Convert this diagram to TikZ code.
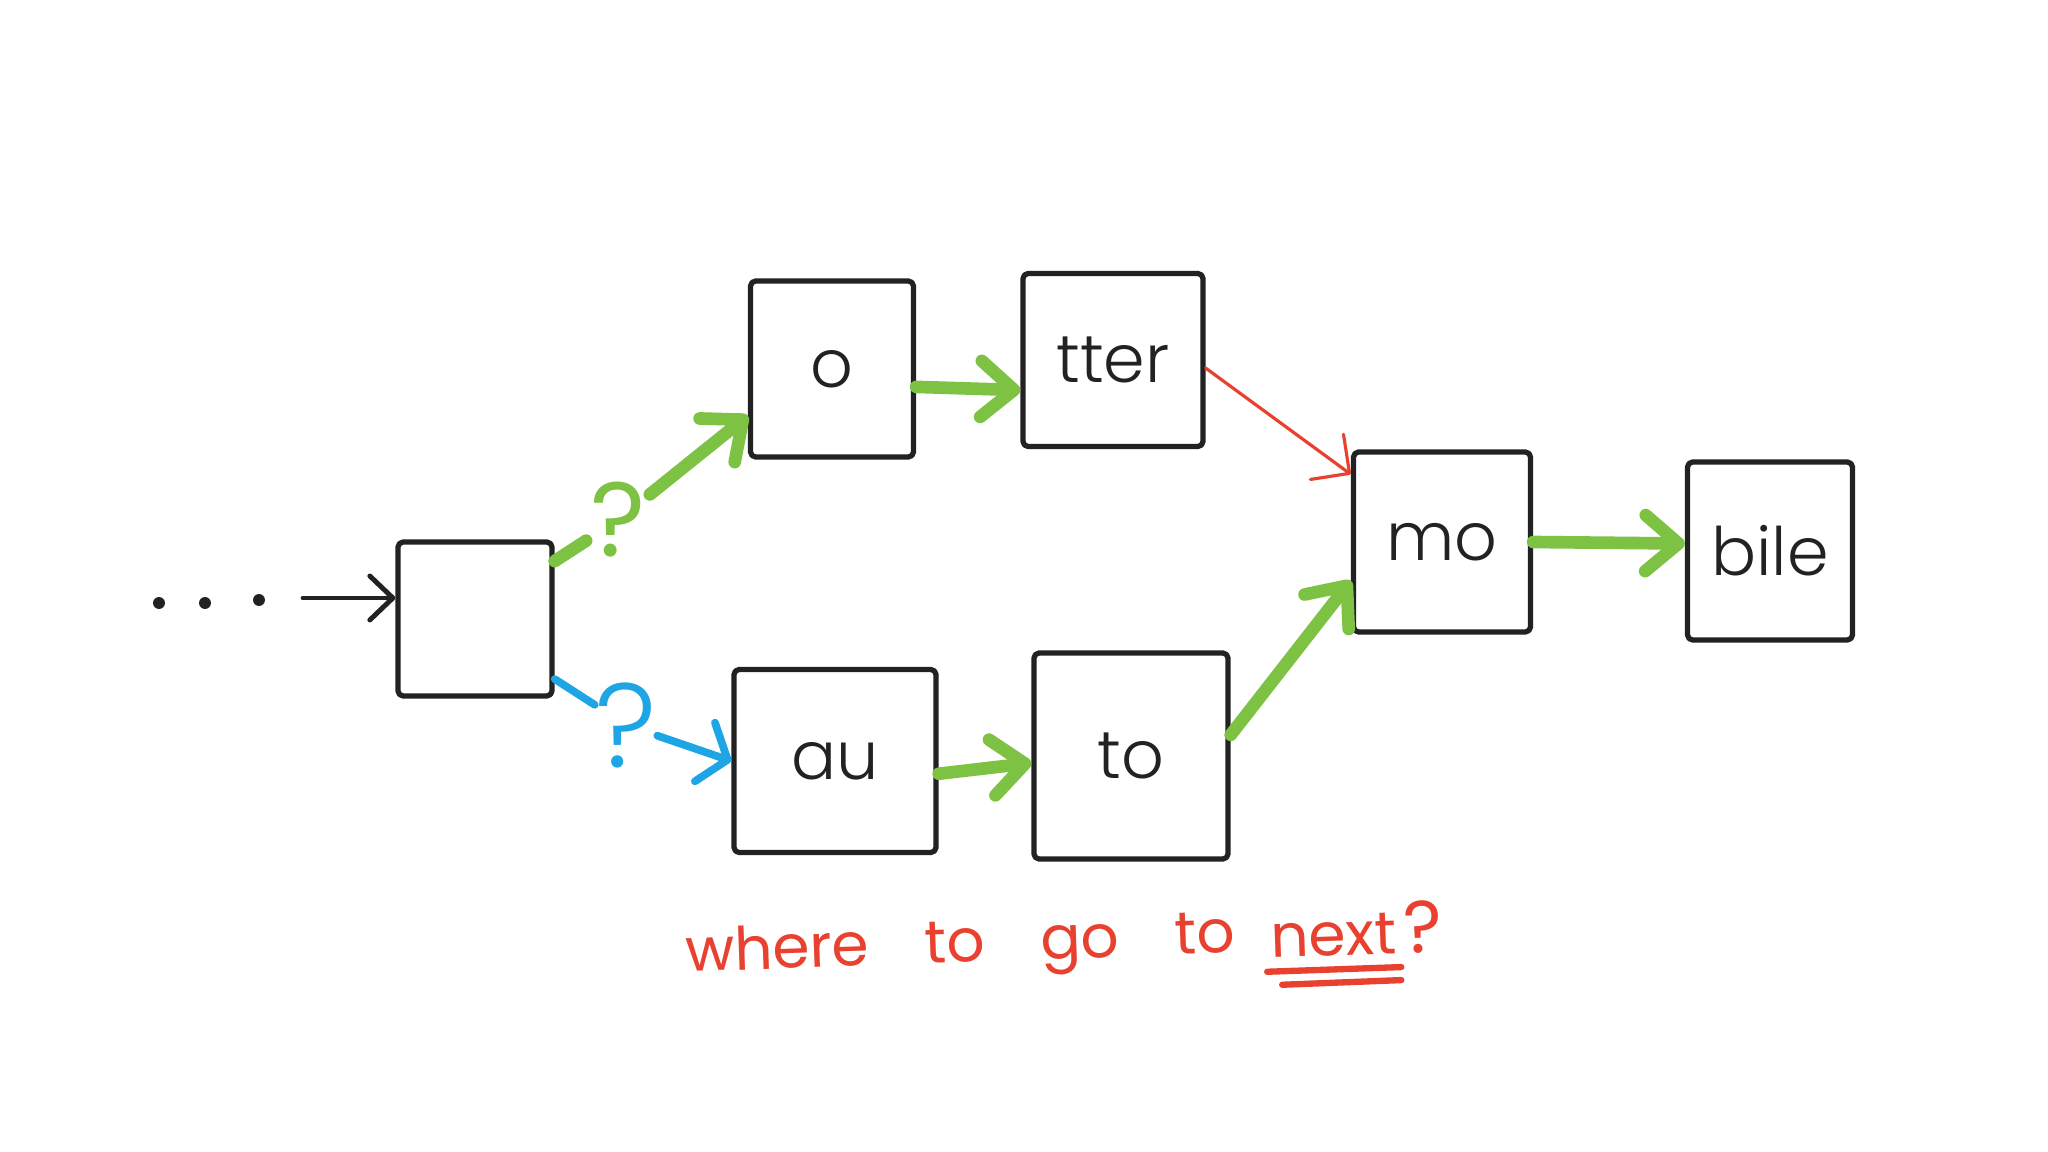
\documentclass[tikz,border=0pt]{standalone}
\usepackage{fontspec}
\setmainfont{Poppins}
\newfontfamily\handfont[WordSpace=3.5]{Poppins}
\newfontfamily\cellfont{Poppins Light}
\usetikzlibrary{arrows.meta,positioning}

\definecolor{penblack}{HTML}{222222}
\definecolor{pengreen}{HTML}{7DC242}
\definecolor{penblue}{HTML}{1DA5E5}
\definecolor{penred}{HTML}{E8412F}

\tikzset{
  cell/.style={draw=penblack, line width=1.5pt, line join=round, rounded corners=1.5pt,
    inner sep=0pt, text=penblack, font=\cellfont\fontsize{19}{22}\selectfont},
  inpen/.style={draw=penblack, line width=1.4pt, line cap=round,
    -{Straight Barb[length=2.3mm, width=4.4mm, round]}},
  greenpen/.style={draw=pengreen, line width=3.6pt, line cap=round},
  goon/.style={greenpen, -{Straight Barb[length=3.3mm, width=5.6mm, round]}},
  bluepen/.style={draw=penblue, line width=2.2pt, line cap=round},
  bluego/.style={bluepen, -{Straight Barb[length=2.4mm, width=6.2mm, round]}},
  redgo/.style={draw=penred, line width=0.9pt, line cap=round,
    -{Straight Barb[length=2.8mm, width=5.6mm, round]}},
  ask/.style={text=penred, font=\handfont\fontsize{17}{20}\selectfont, rotate=2, inner sep=1pt},
  underpen/.style={draw=penred, line width=1.8pt, line cap=round}
}

\begin{document}
\begin{tikzpicture}[x=0.01cm, y=-0.01cm]
  \fill[white] (0,0) rectangle (2048,1152);
  \useasboundingbox (0,0) rectangle (2048,1152);

  % where we are, and what came before
  \node[cell, minimum width=1.54cm, minimum height=1.54cm] (cur) at (475,619) {};
  \foreach \x/\y in {159/603, 205/603, 259/600}
    \fill[penblack] (\x,\y) circle[radius=1.7pt];
  \coordinate (in) at (303,598);
  \draw[inpen] (in) -- (cur.west |- in);

  % the two ways on
  \node[cell, minimum width=1.63cm, minimum height=1.76cm] (o) at (832,369) {o};
  \node[cell, minimum width=1.80cm, minimum height=1.73cm] (tter) at (1113,360) {tter};
  \node[cell, minimum width=2.02cm, minimum height=1.83cm] (au) at (835,761) {au};
  \node[cell, minimum width=1.94cm, minimum height=2.06cm] (tto) at (1131,756) {to};
  \node[cell, minimum width=1.77cm, minimum height=1.80cm] (mo) at (1442,542) {mo};
  \node[cell, minimum width=1.65cm, minimum height=1.78cm] (bile) at (1770,551) {bile};

  \node[text=pengreen, font=\fontsize{30}{32}\selectfont, inner sep=1pt] (q1) at (618,520) {?};
  \node[text=penblue, font=\cellfont\fontsize{34}{36}\selectfont, inner sep=0pt] (q2) at (626,725) {?};

  \draw[greenpen] (cur.36) -- (q1);
  \draw[goon] (q1) -- (o.209);
  \draw[bluepen] (cur.-37) -- (q2);
  \draw[bluego] (q2) -- (au.west);

  \draw[goon] (o.-12) -- (tter.198);
  \draw[goon] (au.-7) -- (tto.184);
  \draw[redgo] (tter.-5) -- ([yshift=-0.25cm]mo.north west);
  \draw[goon] (tto.12) -- (mo.203);
  \draw[goon] (mo.east) -- (bile.175);

  % the question below
  \node[ask, anchor=base west] (where) at (682,972) {where to go to};
  \node[ask, anchor=base west] (nxt) at (1267,958) {next};
  \node[ask, anchor=base west, inner sep=0pt, font=\handfont\fontsize{21}{24}\selectfont]
    (qm) at ([xshift=0.3mm]nxt.base east) {?};
  \draw[underpen] ([yshift=-0.9mm]nxt.south west) -- ([yshift=-0.9mm]nxt.south east);
  \draw[underpen] ([xshift=1.5mm, yshift=-2.2mm]nxt.south west) -- ([yshift=-2.2mm]nxt.south east);
\end{tikzpicture}
\end{document}
